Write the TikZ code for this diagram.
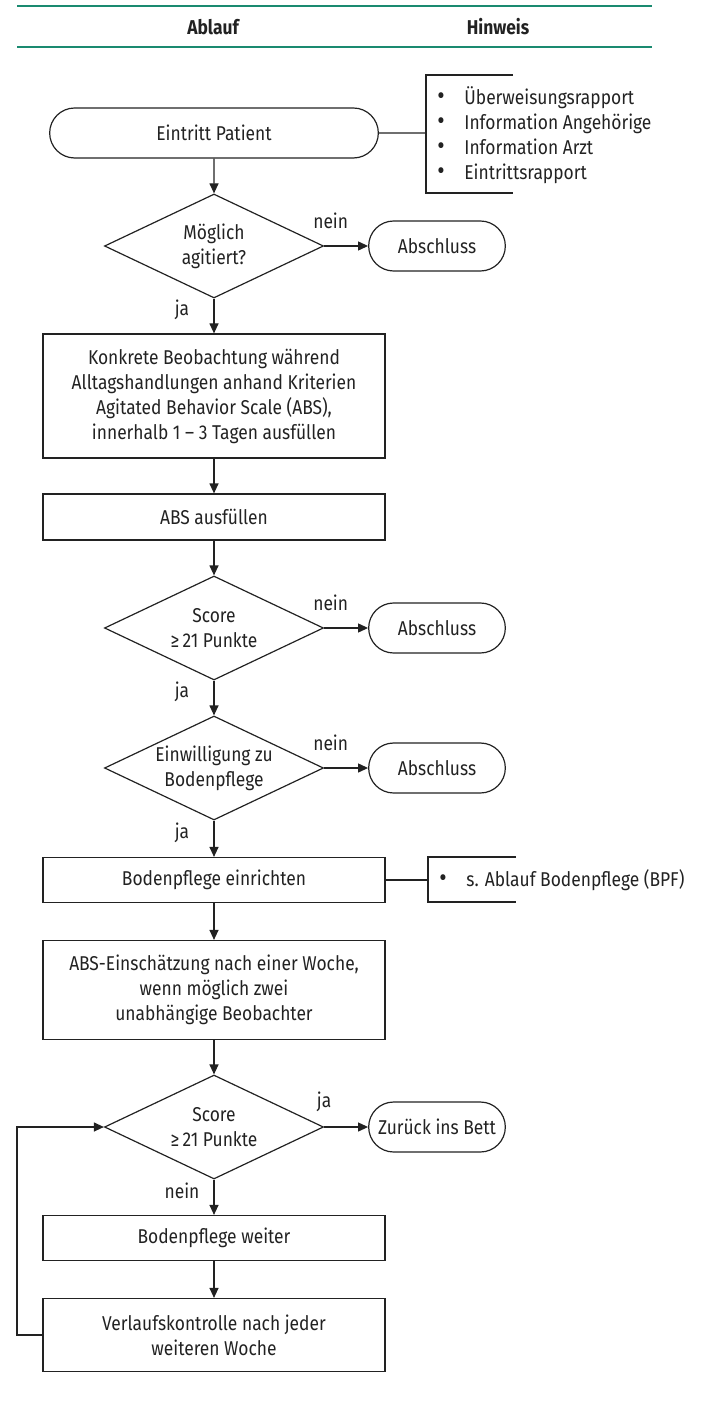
\documentclass[tikz,border=0pt]{standalone}
\usepackage{fontspec}
\setmainfont{Fira Sans}[FakeStretch=0.87]
\usepackage{tikz}
\usetikzlibrary{shapes.geometric,shapes.misc,arrows.meta}

\definecolor{rulegreen}{HTML}{1A8A70}
\definecolor{ink}{HTML}{222222}

\tikzset{
	txt/.style={text=ink, font=\fontsize{10}{12.5}\selectfont},
	base/.style={txt, draw=ink, line width=0.6pt},
	proc/.style={base, rectangle, minimum width=171pt, minimum height=22.5pt, align=center},
	term/.style={base, rounded rectangle, minimum width=75pt, minimum height=25pt},
	decide/.style={base, diamond, aspect=2.1, inner sep=0pt, minimum width=109.5pt, minimum height=52pt, align=center},
	hlbl/.style={txt, inner sep=1pt, pos=.15, yshift=12.5pt},
	vlbl/.style={txt, inner sep=1pt, pos=.33, xshift=-16pt},
	hint/.style={txt, align=left, anchor=west, inner sep=0pt},
	link/.style={draw=ink, line width=0.6pt},
	flow/.style={link, ->},
	>={Triangle[length=5pt,width=4.5pt]}
}
\newcommand{\bull}{\makebox[13.5pt][l]{{\fontsize{13}{12.5}\selectfont\textbullet}}}

\begin{document}
\begin{tikzpicture}[x=0.5pt, y=-0.5pt]
	\useasboundingbox (0,0) rectangle (702,1406);

	% header
	\draw[rulegreen, line width=1.3pt] (17,6) -- (652,6);
	\draw[rulegreen, line width=1pt] (17,47) -- (652,47);
	\node[txt, font=\fontsize{10}{12.5}\selectfont\bfseries] (ablauf) at (213,27) {Ablauf};
	\node[txt, font=\fontsize{10}{12.5}\selectfont\bfseries] (hinweis) at (498,27) {Hinweis};

	% flow
	\node[term, minimum width=171pt] (start) at (214,133) {Eintritt Patient};
	\node[decide] (agit) at (214,246) {Möglich\\agitiert?};
	\node[term] (endA) at (437,246) {Abschluss};
	\node[proc, minimum height=62pt] (observe) at (214,396)
	   {Konkrete Beobachtung während\\Alltagshandlungen anhand Kriterien\\Agitated Behavior Scale (ABS),\\innerhalb 1 – 3 Tagen ausfüllen};
	\node[proc, minimum height=23pt] (absfill) at (214,517) {ABS ausfüllen};
	\node[decide] (scoreA) at (214,628) {Score\\≥\,21 Punkte};
	\node[term] (endB) at (437,628) {Abschluss};
	\node[decide] (consent) at (214,768) {Einwilligung zu\\Bodenpflege};
	\node[term] (endC) at (437,768) {Abschluss};
	\node[proc] (setup) at (214,880) {Bodenpflege einrichten};
	\node[proc, minimum height=49.5pt] (reassess) at (214,990)
	   {ABS-Einschätzung nach einer Woche,\\wenn möglich zwei\\unabhängige Beobachter};
	\node[decide] (scoreB) at (214,1127) {Score\\≥\,21 Punkte};
	\node[term] (backbed) at (437,1127) {Zurück ins Bett};
	\node[proc] (cont) at (214,1238) {Bodenpflege weiter};
	\node[proc, minimum height=36.5pt] (check) at (214,1335)
	   {Verlaufskontrolle nach jeder\\weiteren Woche};

	\draw[flow] (start) -- (agit);
	\draw[flow] (agit) -- node[hlbl] (nA) {nein} (endA);
	\draw[flow] (agit) -- node[vlbl] (jA) {ja} (observe);
	\draw[flow] (observe) -- (absfill);
	\draw[flow] (absfill) -- (scoreA);
	\draw[flow] (scoreA) -- node[hlbl] (nB) {nein} (endB);
	\draw[flow] (scoreA) -- node[vlbl] (jB) {ja} (consent);
	\draw[flow] (consent) -- node[hlbl] (nC) {nein} (endC);
	\draw[flow] (consent) -- node[vlbl] (jC) {ja} (setup);
	\draw[flow] (setup) -- (reassess);
	\draw[flow] (reassess) -- (scoreB);
	\draw[flow] (scoreB) -- node[hlbl, pos=0] (jD) {ja} (backbed);
	\draw[flow] (scoreB) -- node[vlbl] (nD) {nein} (cont);
	\draw[flow] (cont) -- (check);
	\coordinate (loop) at (17,1335);
	\draw[flow] (check.west) -- (loop) |- (scoreB.west);

	% hints
	\coordinate (brA) at (426,133);
	\draw[link] (513,75) -- (426,75) -- (426,193) -- (513,193);
	\draw[link] (start) -- (brA);
	\node[hint] (hintA) at (437,135)
	   {\bull Überweisungsrapport\\\bull Information Angehörige\\\bull Information Arzt\\\bull Eintrittsrapport};

	\coordinate (brB) at (428,880);
	\draw[link] (516,857) -- (428,857) -- (428,902) -- (516,902);
	\draw[link] (setup) -- (brB);
	\node[hint] (hintB) at (439,880) {\bull s. Ablauf Bodenpflege (BPF)};
\end{tikzpicture}
\end{document}
